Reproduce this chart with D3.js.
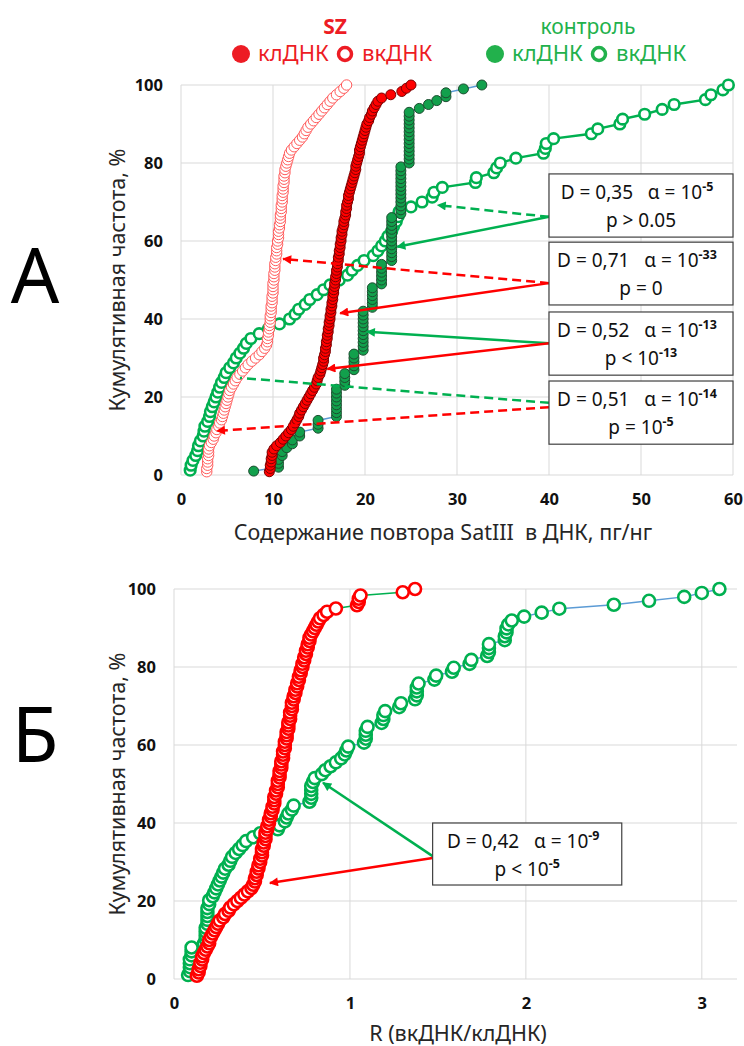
<!DOCTYPE html>
<html>
<head>
<meta charset="utf-8">
<script src="https://cdnjs.cloudflare.com/ajax/libs/d3/7.8.5/d3.min.js"></script>
<style>
    body { margin: 0; background: #fff; }
    svg { font-family: "Noto Sans", "Open Sans", sans-serif; }
    text { white-space: pre; }
</style>
</head>
<body>
<div id="chart"></div>
<script>

// ---------- data: panel A (SatIII, pg/ng) ----------
// SZ, cell-free DNA (clDNA) values, sorted
const szClA = [
    9.6, 9.7, 9.7, 9.8, 9.8, 9.9, 9.9, 10.1, 10.4, 10.8,
    11.1, 11.4, 11.7, 12.0, 12.2, 12.4, 12.6, 12.8, 12.9, 13.1,
    13.3, 13.5, 13.7, 13.9, 14.1, 14.3, 14.5, 14.7, 14.8, 14.9,
    15.1, 15.2, 15.3, 15.4, 15.5, 15.5, 15.6, 15.7, 15.7, 15.8,
    15.8, 15.9, 15.9, 16.0, 16.0, 16.1, 16.1, 16.2, 16.2, 16.3,
    16.3, 16.4, 16.4, 16.5, 16.5, 16.6, 16.6, 16.7, 16.7, 16.8,
    16.8, 16.9, 16.9, 17.0, 17.0, 17.1, 17.1, 17.2, 17.2, 17.3,
    17.3, 17.4, 17.4, 17.5, 17.5, 17.6, 17.7, 17.7, 17.8, 17.9,
    17.9, 18.0, 18.0, 18.1, 18.2, 18.2, 18.3, 18.4, 18.5, 18.6,
    18.7, 18.8, 18.9, 19.0, 19.0, 19.1, 19.2, 19.3, 19.4, 19.4,
    19.5, 19.6, 19.7, 19.8, 19.9, 20.0, 20.1, 20.2, 20.4, 20.5,
    20.7, 20.8, 21.0, 21.2, 21.4, 21.8, 22.8, 24.0, 24.5, 25.0
];
// SZ, vkDNA
const szVkA = [
    2.8, 2.8, 2.9, 2.9, 2.9, 3.0, 3.0, 3.0, 3.1, 3.3,
    3.5, 3.6, 3.8, 3.9, 4.1, 4.2, 4.4, 4.5, 4.6, 4.7,
    4.8, 4.9, 5.0, 5.1, 5.2, 5.3, 5.5, 5.7, 5.9, 6.1,
    6.4, 6.7, 7.0, 7.3, 7.7, 8.1, 8.5, 8.8, 9.1, 9.3,
    9.4, 9.4, 9.5, 9.5, 9.6, 9.6, 9.7, 9.7, 9.7, 9.8,
    9.8, 9.8, 9.9, 9.9, 9.9, 10.0, 10.0, 10.0, 10.0, 10.1,
    10.1, 10.1, 10.2, 10.2, 10.2, 10.3, 10.3, 10.4, 10.4, 10.4,
    10.5, 10.5, 10.6, 10.6, 10.6, 10.7, 10.7, 10.8, 10.8, 10.8,
    10.9, 10.9, 10.9, 11.0, 11.0, 11.0, 11.1, 11.1, 11.1, 11.2,
    11.2, 11.2, 11.3, 11.3, 11.4, 11.5, 11.6, 11.7, 11.8, 12.0,
    12.3, 12.6, 12.9, 13.2, 13.4, 13.6, 13.8, 14.1, 14.4, 14.7,
    15.0, 15.3, 15.6, 15.9, 16.2, 16.5, 16.9, 17.3, 17.7, 18.0
];
// control, clDNA: distinct values and how many samples share each
const ctrlClValsA = [7.9, 10.6, 11.0, 11.5, 12.1, 12.9, 14.9, 16.9, 17.8, 18.8, 19.8,
    20.8, 21.8, 22.9, 23.9, 24.8, 25.9, 26.9, 27.8, 28.8, 30.7, 32.7];
const ctrlClCountsA = [1, 3, 2, 1, 2, 2, 3, 8, 4, 5, 11, 6, 6, 12, 13, 14, 1, 1, 1, 2, 1, 1];
// control, vkDNA
const ctrlVkA = [
    1.0, 1.1, 1.3, 1.6, 1.8, 1.9, 2.1, 2.4, 2.5, 2.6,
    2.9, 3.1, 3.2, 3.4, 3.6, 3.8, 4.0, 4.2, 4.4, 4.7,
    4.9, 5.3, 5.7, 6.0, 6.4, 6.8, 7.1, 7.6, 8.5, 9.5,
    10.7, 11.8, 12.4, 12.8, 13.5, 14.0, 14.8, 15.5, 16.2, 17.2,
    18.1, 18.6, 19.2, 19.9, 20.9, 21.4, 21.8, 22.2, 22.5, 22.9,
    23.1, 23.4, 23.6, 23.7, 25.0, 26.2, 27.3, 27.5, 28.4, 32.0,
    32.1, 34.0, 34.3, 34.7, 36.4, 39.4, 39.6, 39.7, 40.5, 44.6,
    45.3, 47.7, 48.0, 50.4, 52.3, 53.6, 57.0, 57.6, 58.9, 59.5
];

// ---------- data: panel B (R = vkDNA/clDNA) ----------
const szR = [
    0.13, 0.14, 0.14, 0.15, 0.15, 0.16, 0.16, 0.17, 0.18, 0.19,
    0.20, 0.20, 0.21, 0.22, 0.23, 0.24, 0.25, 0.26, 0.28, 0.29,
    0.31, 0.32, 0.34, 0.36, 0.38, 0.40, 0.42, 0.44, 0.45, 0.46,
    0.46, 0.47, 0.47, 0.48, 0.48, 0.49, 0.49, 0.50, 0.50, 0.50,
    0.51, 0.51, 0.52, 0.52, 0.52, 0.53, 0.53, 0.54, 0.54, 0.55,
    0.55, 0.56, 0.56, 0.57, 0.57, 0.57, 0.58, 0.58, 0.59, 0.59,
    0.59, 0.60, 0.60, 0.60, 0.61, 0.61, 0.61, 0.62, 0.62, 0.62,
    0.63, 0.63, 0.63, 0.64, 0.64, 0.64, 0.65, 0.65, 0.65, 0.66,
    0.66, 0.66, 0.67, 0.67, 0.67, 0.68, 0.68, 0.69, 0.69, 0.70,
    0.70, 0.71, 0.71, 0.72, 0.72, 0.73, 0.73, 0.74, 0.74, 0.75,
    0.75, 0.76, 0.76, 0.77, 0.77, 0.78, 0.79, 0.80, 0.81, 0.82,
    0.83, 0.85, 0.87, 0.92, 1.04, 1.05, 1.05, 1.06, 1.30, 1.37
];
const ctrlR = [
    0.08, 0.09, 0.09, 0.09, 0.09, 0.10, 0.10, 0.10,
    0.17, 0.18, 0.18, 0.18, 0.18, 0.19, 0.19, 0.19, 0.19, 0.19, 0.20,
    0.20, 0.22, 0.23, 0.24, 0.25, 0.26, 0.27, 0.28, 0.29, 0.31,
    0.32, 0.33, 0.35, 0.37, 0.39, 0.41, 0.45, 0.49, 0.59, 0.60,
    0.63, 0.64, 0.65, 0.67, 0.68, 0.77, 0.78, 0.78, 0.78,
    0.78, 0.79, 0.80, 0.84, 0.86,
    0.89, 0.92, 0.95, 0.97, 0.98, 0.99, 1.08, 1.09, 1.09,
    1.09, 1.10, 1.18, 1.19, 1.19, 1.20, 1.28, 1.29,
    1.37, 1.38, 1.38, 1.38, 1.39, 1.48, 1.49, 1.58, 1.59,
    1.68, 1.69, 1.78, 1.79, 1.79, 1.79, 1.88, 1.88, 1.89, 1.89, 1.90, 1.92,
    1.99, 2.09, 2.19, 2.50, 2.70, 2.90, 3.00, 3.10
];

// ---------- ticks and labels ----------
const xTicksA = [0, 10, 20, 30, 40, 50, 60];
const xTicksB = [0, 1, 2, 3];
const yTicks = [0, 20, 40, 60, 80, 100];
const yTitle = "Кумулятивная частота, %";
const xTitleA = "Содержание повтора SatIII  в ДНК, пг/нг";
const xTitleB = "R (вкДНК/клДНК)";

// ---------- KS test annotations ----------
const annoD_A = ["0,35", "0,71", "0,52", "0,51"];
const annoAlpha_A = ["-5", "-33", "-13", "-14"];
const annoP_A = ["p > 0.05", "p = 0", "p < 10", "p = 10"];
const annoPExp_A = ["", "", "-13", "-5"];
const annoD_B = ["0,42"];
const annoAlpha_B = ["-9"];
const annoP_B = ["p < 10"];
const annoPExp_B = ["-5"];

const RED = "#ff0000", DARKRED = "#7a0000", PINK = "#ff5a5a";
const GREEN = "#00b050", GREEN_FILL = "#12a04c", DARKGREEN = "#1d4d30";
const BLUE = "#5b9bd5", GRID = "#d9d9d9";

// cumulative frequency (%) of sorted values
function ecdf(values) {
    const sorted = values.slice().sort(d3.ascending);
    const n = sorted.length;
    return sorted.map((v, i) => ({ x: v, y: (i + 1) / n * 100 }));
}
function expand(vals, counts) {
    let out = [];
    vals.forEach((v, i) => { for (let k = 0; k < counts[i]; k++) out.push(v); });
    return out;
}

const svg = d3.select("#chart")
    .append("svg")
    .attr("width", 744)
    .attr("height", 1046);

// arrow heads
const defs = svg.append("defs");
[["arrG", GREEN], ["arrR", RED]].forEach(([id, col]) => {
    defs.append("marker")
        .attr("id", id)
        .attr("viewBox", "0 0 10 10")
        .attr("refX", 9).attr("refY", 5)
        .attr("markerWidth", 10).attr("markerHeight", 9)
        .attr("markerUnits", "userSpaceOnUse")
        .attr("orient", "auto")
        .append("path")
        .attr("d", "M0,0 L10,5 L0,10 z")
        .attr("fill", col);
});

function drawFrame(x, y, xTicks, letter, letterY, xTitle, xTitleY, xTitleX) {
    let g = svg.append("g");
    const [x0, x1] = x.range();
    const [y0, y1] = y.range();

    // grid
    g.selectAll(".gx").data(xTicks).join("line")
        .attr("x1", d => x(d)).attr("x2", d => x(d))
        .attr("y1", y0).attr("y2", y1)
        .attr("stroke", GRID).attr("stroke-width", 1);
    g.selectAll(".gy").data(yTicks).join("line")
        .attr("x1", x0).attr("x2", x1)
        .attr("y1", d => y(d)).attr("y2", d => y(d))
        .attr("stroke", GRID).attr("stroke-width", 1);

    // tick labels
    let ax = g.append("g")
        .attr("transform", `translate(0, ${y0})`)
        .call(d3.axisBottom(x).tickValues(xTicks).tickSize(0).tickPadding(18).tickFormat(d3.format("d")));
    let ay = g.append("g")
        .attr("transform", `translate(${x0}, 0)`)
        .call(d3.axisLeft(y).tickValues(yTicks).tickSize(0).tickPadding(18).tickFormat(d3.format("d")));
    [ax, ay].forEach(a => {
        a.select(".domain").remove();
        a.selectAll("text")
            .attr("font-family", "'Noto Sans', sans-serif")
            .attr("font-size", "16.5px")
            .attr("font-weight", "bold")
            .attr("fill", "#111");
    });

    // titles
    g.append("text")
        .attr("transform", `translate(125, ${(y0 + y1) / 2}) rotate(-90)`)
        .attr("text-anchor", "middle")
        .attr("font-size", "21.5px")
        .attr("fill", "#262626")
        .text(yTitle);
    g.append("text")
        .attr("x", xTitleX)
        .attr("y", xTitleY)
        .attr("text-anchor", "middle")
        .attr("font-size", "21.5px")
        .attr("fill", "#262626")
        .text(xTitle);
    g.append("text")
        .attr("x", 35)
        .attr("y", letterY)
        .attr("text-anchor", "middle")
        .attr("font-size", "76px")
        .attr("fill", "#000")
        .text(letter);
}

function drawLine(data, x, y, col, w) {
    svg.append("path")
        .datum(data)
        .attr("fill", "none")
        .attr("stroke", col)
        .attr("stroke-width", w)
        .attr("d", d3.line().x(d => x(d.x)).y(d => y(d.y)));
}

function drawDots(data, x, y, r, fill, stroke, sw) {
    svg.append("g").selectAll("circle")
        .data(data)
        .join("circle")
        .attr("cx", d => x(d.x))
        .attr("cy", d => y(d.y))
        .attr("r", r)
        .attr("fill", fill)
        .attr("stroke", stroke)
        .attr("stroke-width", sw);
}

function drawBox(x, y, box, d, alpha, p, pExp) {
    const bx = x(box[0]), bw = x(box[1]) - x(box[0]);
    const by = y(box[2]), bh = y(box[3]) - y(box[2]);
    let g = svg.append("g");
    g.append("rect")
        .attr("x", bx).attr("y", by)
        .attr("width", bw).attr("height", bh)
        .attr("fill", "#fff")
        .attr("stroke", "#404040")
        .attr("stroke-width", 1.2);
    let t1 = g.append("text")
        .attr("x", bx + bw / 2 - 4)
        .attr("y", by + 25)
        .attr("text-anchor", "middle")
        .attr("font-size", "19px")
        .attr("fill", "#111");
    t1.append("tspan").text("D = " + d + "   α = 10");
    t1.append("tspan").attr("dy", -8).attr("font-size", "12.5px").attr("font-weight", "bold").text(alpha);
    let t2 = g.append("text")
        .attr("x", bx + bw / 2)
        .attr("y", by + 53)
        .attr("text-anchor", "middle")
        .attr("font-size", "19px")
        .attr("fill", "#111");
    t2.append("tspan").text(p);
    if (pExp) t2.append("tspan").attr("dy", -8).attr("font-size", "12.5px").attr("font-weight", "bold").text(pExp);
}

function drawArrow(x, y, a) {
    const col = a.color === "g" ? GREEN : RED;
    let line = svg.append("line")
        .attr("x1", x(a.from[0])).attr("y1", y(a.from[1]))
        .attr("x2", x(a.to[0])).attr("y2", y(a.to[1]))
        .attr("stroke", col)
        .attr("stroke-width", 2.5);
    if (a.dash) line.attr("stroke-dasharray", "9,5");
    if (a.head) line.attr("marker-end", a.color === "g" ? "url(#arrG)" : "url(#arrR)");
}

// ---------- legend ----------
function legend(cx, title, col, bold) {
    svg.append("text")
        .attr("x", cx).attr("y", 34)
        .attr("text-anchor", "middle")
        .attr("font-size", "21px")
        .attr("font-weight", bold ? "bold" : "normal")
        .attr("fill", col)
        .text(title);
}
legend(335, "SZ", "#ed1c24", true);
legend(588, "контроль", "#22b14c", false);
[[241, "#ed1c24"], [495, "#22b14c"]].forEach(([lx, col]) => {
    svg.append("circle").attr("cx", lx).attr("cy", 54).attr("r", 9).attr("fill", col);
    svg.append("text").attr("x", lx + 17).attr("y", 61).attr("font-size", "22px").attr("fill", col).text("клДНК");
    svg.append("circle").attr("cx", lx + 104).attr("cy", 54).attr("r", 6.5)
        .attr("fill", "none").attr("stroke", col).attr("stroke-width", 3.5);
    svg.append("text").attr("x", lx + 121).attr("y", 61).attr("font-size", "22px").attr("fill", col).text("вкДНК");
});

// ---------- panel A ----------
const xA = d3.scaleLinear().domain([0, 60]).range([181, 733]);
const yA = d3.scaleLinear().domain([0, 100]).range([475, 85]);
drawFrame(xA, yA, xTicksA, "А", 303, xTitleA, 540, 443);

const ctrlVkPts = ecdf(ctrlVkA);
const ctrlClPts = ecdf(expand(ctrlClValsA, ctrlClCountsA));
const szVkPts = ecdf(szVkA);
const szClPts = ecdf(szClA);

drawLine(ctrlVkPts, xA, yA, GREEN, 2.5);
drawDots(ctrlVkPts, xA, yA, 5.3, "#fff", GREEN, 2.6);
drawLine(ctrlClPts, xA, yA, BLUE, 1.5);
drawDots(ctrlClPts, xA, yA, 5, GREEN_FILL, DARKGREEN, 1);
drawDots(szVkPts, xA, yA, 5.2, "#fff", PINK, 1);
drawDots(szClPts, xA, yA, 5, RED, DARKRED, 1);

const boxesA = [[40, 60, 77.2, 61], [40, 60, 59.7, 43.6], [40, 60, 41.8, 25.6], [40, 60, 24.1, 7.9]];
const arrowsA = [
    { from: [40, 66.2], to: [27.9, 69.2], color: "g", dash: true, head: true },
    { from: [40, 66.2], to: [23.5, 58.5], color: "g", dash: false, head: true },
    { from: [40, 49.2], to: [11.1, 55.4], color: "r", dash: true, head: true },
    { from: [40, 49.2], to: [17.3, 41.5], color: "r", dash: false, head: true },
    { from: [40, 33.8], to: [20.2, 36.7], color: "g", dash: false, head: true },
    { from: [40, 33.8], to: [15.9, 27.2], color: "r", dash: false, head: true },
    { from: [40, 18.5], to: [6.4, 24.9], color: "g", dash: true, head: false },
    { from: [40, 17.4], to: [3.9, 11.3], color: "r", dash: true, head: true }
];
arrowsA.forEach(a => drawArrow(xA, yA, a));
boxesA.forEach((b, i) => drawBox(xA, yA, b, annoD_A[i], annoAlpha_A[i], annoP_A[i], annoPExp_A[i]));

// ---------- panel B ----------
const xB = d3.scaleLinear().domain([0, 3.2]).range([174, 737]);
const yB = d3.scaleLinear().domain([0, 100]).range([979, 589]);
drawFrame(xB, yB, xTicksB, "Б", 762, xTitleB, 1041, 458);

const ctrlRPts = ecdf(ctrlR);
const szRPts = ecdf(szR);
drawLine(ctrlRPts, xB, yB, BLUE, 1.5);
drawDots(ctrlRPts, xB, yB, 6, "#fff", GREEN, 2.6);
drawLine(szRPts, xB, yB, GREEN, 1.5);
drawDots(szRPts, xB, yB, 6, "#fff", RED, 2.6);

const boxesB = [[1.47, 2.545, 40, 24.1]];
const arrowsB = [
    { from: [1.47, 31.5], to: [0.847, 50.3], color: "g", dash: false, head: true },
    { from: [1.47, 31.0], to: [0.545, 24.6], color: "r", dash: false, head: true }
];
arrowsB.forEach(a => drawArrow(xB, yB, a));
boxesB.forEach((b, i) => drawBox(xB, yB, b, annoD_B[i], annoAlpha_B[i], annoP_B[i], annoPExp_B[i]));

</script>
</body>
</html>
